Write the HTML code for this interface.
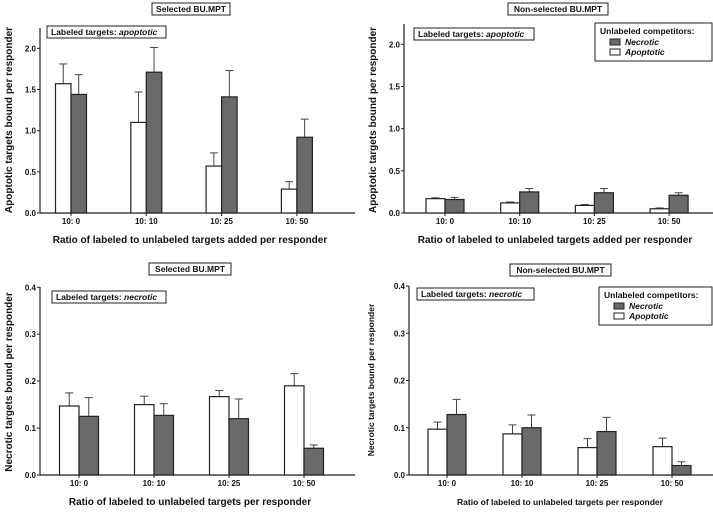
<!DOCTYPE html>
<html><head><meta charset="utf-8"><style>
body{margin:0;background:#fff;width:713px;height:507px;overflow:hidden}
svg text{font-family:"Liberation Sans",sans-serif;font-weight:bold;fill:#111}
</style></head><body>
<svg id="c" width="713" height="507" viewBox="0 0 713 507" xmlns="http://www.w3.org/2000/svg"></svg>
<script>
const categories = ["10: 0","10: 10","10: 25","10: 50"];
const p1White = [1.57,1.10,0.57,0.29], p1WhiteErr = [1.81,1.47,0.73,0.38];
const p1Gray = [1.44,1.71,1.41,0.92], p1GrayErr = [1.68,2.01,1.73,1.14];
const p2White = [0.17,0.12,0.09,0.05], p2WhiteErr = [0.18,0.13,0.10,0.06];
const p2Gray = [0.16,0.25,0.24,0.21], p2GrayErr = [0.185,0.29,0.29,0.24];
const p3White = [0.147,0.150,0.167,0.190], p3WhiteErr = [0.175,0.168,0.180,0.216];
const p3Gray = [0.125,0.127,0.120,0.057], p3GrayErr = [0.165,0.152,0.162,0.064];
const p4White = [0.097,0.087,0.058,0.060], p4WhiteErr = [0.112,0.106,0.077,0.078];
const p4Gray = [0.128,0.100,0.092,0.020], p4GrayErr = [0.160,0.127,0.122,0.028];
const ticksTop = [0,0.5,1.0,1.5,2.0], ticksTopLabels = ["0.0","0.5","1.0","1.5","2.0"];
const ticksBot = [0,0.1,0.2,0.3,0.4], ticksBotLabels = ["0.0","0.1","0.2","0.3","0.4"];

const svg = document.getElementById('c');
const NS = 'http://www.w3.org/2000/svg';
function mk(tag, attrs, parent){const e=document.createElementNS(NS,tag);for(const k in attrs)e.setAttribute(k,attrs[k]);(parent||svg).appendChild(e);return e;}

function panel(cfg){
  const g = mk('g',{});
  
  
  const y = v => cfg.y0 - (v - 0) / cfg.ymax * (cfg.y0 - cfg.ytop);
  const cx = i => cfg.cx0 + i * cfg.step;
  const ya = mk('line',{x1:cfg.ax,y1:cfg.axTop,x2:cfg.ax,y2:cfg.y0,stroke:'#222','stroke-width':1.2},g);
  
  
  const xa = mk('line',{x1:cfg.ax,y1:cfg.y0,x2:cfg.axRight,y2:cfg.y0,stroke:'#222','stroke-width':1.2},g);
  
  
  cfg.ticks.forEach((t,i)=>{
    mk('line',{x1:cfg.ax-3,y1:y(t),x2:cfg.ax,y2:y(t),stroke:'#222'},g);
    const tl = mk('text',{x:cfg.ax-4,y:y(t)+3,'font-size':8,'text-anchor':'end'},g);
    tl.textContent = cfg.tickLabels[i];
    
    
  });
  categories.forEach((c,i)=>{
    mk('line',{x1:cx(i),y1:cfg.y0,x2:cx(i),y2:cfg.y0+3,stroke:'#222'},g);
    const tl = mk('text',{x:cx(i),y:cfg.y0+11,'font-size':8,'text-anchor':'middle'},g);
    tl.textContent = c;
    
    
    const bw = cfg.bw;
    [[cfg.white,cfg.whiteErr,'#fff',-bw],[cfg.gray,cfg.grayErr,'#6a6a6a',0]].forEach(([vals,errs,fill,off],k)=>{
      const x0 = cx(i)+off;
      mk('line',{x1:x0+bw/2,y1:y(vals[i]),x2:x0+bw/2,y2:y(errs[i]),stroke:'#444','stroke-width':1},g);
      mk('line',{x1:x0+bw/2-4,y1:y(errs[i]),x2:x0+bw/2+4,y2:y(errs[i]),stroke:'#444','stroke-width':1},g);
      const r = mk('rect',{x:x0,y:y(vals[i]),width:bw,height:y(0)-y(vals[i]),fill:fill,stroke:'#222','stroke-width':1.2},g);
      
      
    });
  });
  const tb = mk('g',{},g);
  
  
  mk('rect',{x:cfg.title[1],y:cfg.title[2],width:cfg.title[3],height:12,fill:'#fff',stroke:'#222','stroke-width':1},tb);
  const tt = mk('text',{x:cfg.title[1]+cfg.title[3]/2,y:cfg.title[2]+9,'font-size':8.5,'text-anchor':'middle'},tb);
  tt.textContent = cfg.title[0];
  const lb = mk('g',{},g);
  
  
  mk('rect',{x:cfg.lab[0],y:cfg.lab[1],width:cfg.lab[2],height:12,fill:'#fff',stroke:'#222','stroke-width':1},lb);
  const lt = mk('text',{x:cfg.lab[0]+4,y:cfg.lab[1]+9,'font-size':8.5},lb);
  lt.innerHTML = 'Labeled targets: <tspan font-style="italic">'+cfg.lab[3]+'</tspan>';
  if(cfg.legend){
    const [lx,ly] = cfg.legend;
    const lg = mk('g',{},g);
    
    
    mk('rect',{x:lx,y:ly,width:713-lx-1,height:38,fill:'#fff',stroke:'#222','stroke-width':1},lg);
    const t1 = mk('text',{x:lx+5,y:ly+11,'font-size':8.5},lg); t1.textContent='Unlabeled competitors:';
    mk('rect',{x:lx+15,y:ly+16,width:10,height:6,fill:'#6a6a6a',stroke:'#222'},lg);
    const t2 = mk('text',{x:lx+30,y:ly+22,'font-size':8.5,'font-style':'italic'},lg); t2.textContent='Necrotic';
    
    
    mk('rect',{x:lx+15,y:ly+26,width:10,height:6,fill:'#fff',stroke:'#222'},lg);
    const t3 = mk('text',{x:lx+30,y:ly+32,'font-size':8.5,'font-style':'italic'},lg); t3.textContent='Apoptotic';
    
    
  }
  const xt = mk('text',{x:cfg.xt[0],y:cfg.xt[1],'font-size':cfg.xt[3],'text-anchor':'middle'},g);
  xt.textContent = cfg.xt[2];
  
  
  const yt = mk('text',{x:0,y:0,'font-size':cfg.yt[3],'text-anchor':'middle',transform:`translate(${cfg.yt[0]},${cfg.yt[1]}) rotate(-90)`},g);
  yt.textContent = cfg.yt[2];
  
  
}

panel({name:'panel-selected-apoptotic',ax:40,axTop:28,axRight:355,y0:213,ytop:48.3,ymax:2.0,ticks:ticksTop,tickLabels:ticksTopLabels,
  cx0:71,step:75.3,bw:15.5,white:p1White,whiteErr:p1WhiteErr,gray:p1Gray,grayErr:p1GrayErr,
  title:['Selected BU.MPT',152,3,78],lab:[47,26,119,'apoptotic'],
  xt:[190,243,'Ratio of labeled to unlabeled targets added per responder',10],yt:[12,120,'Apoptotic targets bound per responder',10]});
panel({name:'panel-nonselected-apoptotic',ax:404,axTop:24,axRight:713,y0:213,ytop:44.3,ymax:2.0,ticks:ticksTop,tickLabels:ticksTopLabels,
  cx0:445,step:74.7,bw:19,white:p2White,whiteErr:p2WhiteErr,gray:p2Gray,grayErr:p2GrayErr,
  title:['Non-selected BU.MPT',508,3,100],lab:[414,28,120,'apoptotic'],legend:[595,23],
  xt:[555,243,'Ratio of labeled to unlabeled targets added per responder',10],yt:[376,120,'Apoptotic targets bound per responder',10]});
panel({name:'panel-selected-necrotic',ax:40,axTop:287,axRight:355,y0:475,ytop:287.3,ymax:0.4,ticks:ticksBot,tickLabels:ticksBotLabels,
  cx0:79,step:75,bw:19.5,white:p3White,whiteErr:p3WhiteErr,gray:p3Gray,grayErr:p3GrayErr,
  title:['Selected BU.MPT',149,263,82],lab:[52,291,114,'necrotic'],
  xt:[190,505,'Ratio of labeled to unlabeled targets per responder',10],yt:[12,382,'Necrotic targets bound per responder',10]});
panel({name:'panel-nonselected-necrotic',ax:409,axTop:286,axRight:713,y0:475,ytop:286,ymax:0.4,ticks:ticksBot,tickLabels:ticksBotLabels,
  cx0:447,step:75,bw:19,white:p4White,whiteErr:p4WhiteErr,gray:p4Gray,grayErr:p4GrayErr,
  title:['Non-selected BU.MPT',510,264,101],lab:[417,288,117,'necrotic'],legend:[599,287],
  xt:[560,505,'Ratio of labeled to unlabeled targets per responder',8.5],yt:[374,380,'Necrotic targets bound per responder',8.5]});
</script>
</body></html>
